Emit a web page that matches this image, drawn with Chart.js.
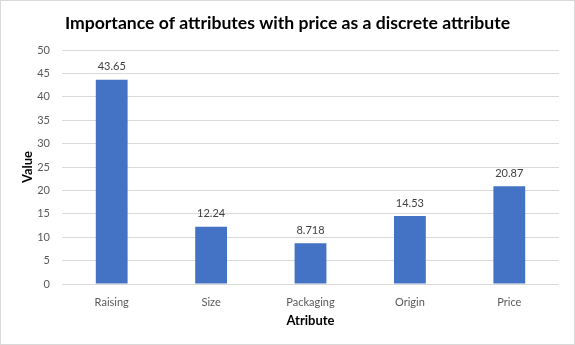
<!DOCTYPE html>
<html>
<head>
<meta charset="utf-8">
<script src="https://cdn.jsdelivr.net/npm/chart.js@4"></script>
<style>
  html, body { margin: 0; padding: 0; background: #fff; }
  #wrap { width: 575px; height: 345px; }
</style>
</head>
<body>
<div id="wrap"><canvas id="chart" width="575" height="345"></canvas></div>
<script>
const categories = ['Raising', 'Size', 'Packaging', 'Origin', 'Price'];
const values = [43.65, 12.24, 8.718, 14.53, 20.87];
const valueLabels = ['43.65', '12.24', '8.718', '14.53', '20.87'];
const yTicks = [0, 5, 10, 15, 20, 25, 30, 35, 40, 45, 50];

const FONT = 'Lato, "Open Sans", sans-serif';

// value labels above each bar
const barLabels = {
  id: 'barLabels',
  afterDatasetsDraw(chart) {
    const { ctx } = chart;
    const meta = chart.getDatasetMeta(0);
    ctx.save();
    ctx.font = '11px ' + FONT;
    ctx.fillStyle = '#404040';
    ctx.textAlign = 'center';
    ctx.textBaseline = 'middle';
    meta.data.forEach((bar, i) => {
      ctx.fillText(valueLabels[i], bar.x, bar.y - 13);
    });
    ctx.restore();
  }
};

// thin frame round the whole chart
const frame = {
  id: 'frame',
  beforeDraw(chart) {
    const { ctx, width, height } = chart;
    ctx.save();
    ctx.fillStyle = '#fff';
    ctx.fillRect(0, 0, width, height);
    ctx.strokeStyle = '#d9d9d9';
    ctx.lineWidth = 1;
    ctx.strokeRect(0.5, 0.5, width - 1, height - 1);
    ctx.restore();
  }
};

new Chart(document.getElementById('chart'), {
  type: 'bar',
  data: {
    labels: categories,
    datasets: [{
      data: values,
      backgroundColor: '#4472C4',
      categoryPercentage: 1,
      barPercentage: 0.32,
    }],
  },
  options: {
    responsive: false,
    animation: false,
    layout: { padding: 0 },
    plugins: {
      legend: { display: false },
      tooltip: { enabled: false },
      title: {
        display: true,
        text: 'Importance of attributes with price as a discrete attribute',
        color: '#000',
        font: { family: FONT, size: 17.6, weight: 'bold' },
        padding: { top: 13, bottom: 15.9 },
      },
    },
    scales: {
      x: {
        grid: { display: false },
        border: { display: false },
        ticks: { color: '#595959', font: { family: FONT, size: 11 }, padding: 3.5 },
        title: {
          display: true, text: 'Atribute', color: '#000',
          font: { family: FONT, size: 13, weight: 'bold' },
          padding: { top: 0, bottom: 16 },
        },
        afterFit: (scale) => { scale.height = 61; },
      },
      y: {
        min: 0,
        max: 50,
        afterBuildTicks: (scale) => { scale.ticks = yTicks.map((v) => ({ value: v })); },
        grid: { color: '#d9d9d9', drawTicks: false },
        border: { display: false },
        ticks: { color: '#595959', font: { family: FONT, size: 11 }, padding: 12 },
        title: {
          display: true, text: 'Value', color: '#000',
          font: { family: FONT, size: 13, weight: 'bold' },
          padding: { top: 20, bottom: 0 },
        },
        afterFit: (scale) => { scale.width = 62; },
      },
      // empty strip on the right so the plot ends short of the frame
      yRight: {
        position: 'right',
        display: true,
        grid: { display: false },
        border: { display: false },
        ticks: { display: false },
        afterFit: (scale) => { scale.width = 16; },
      },
    },
  },
  plugins: [frame, barLabels],
});
</script>
</body>
</html>
